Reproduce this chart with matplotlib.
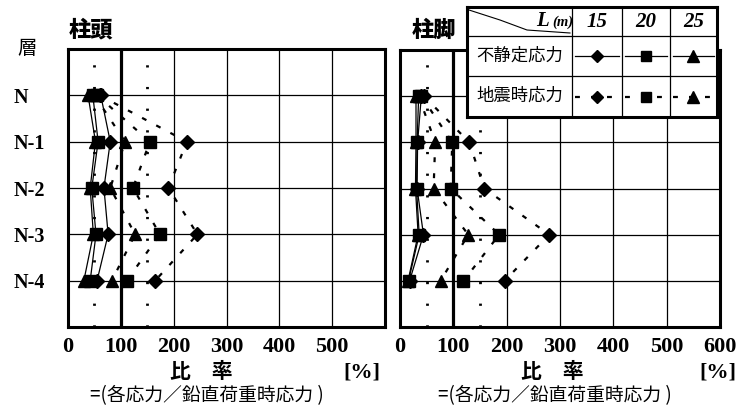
import matplotlib
matplotlib.use('Agg')
from matplotlib import pyplot as plt
import numpy as np

# floors (top to bottom) and ratio values [%]
floors = ['N', 'N-1', 'N-2', 'N-3', 'N-4']
spans = ['15', '20', '25']

# 柱頭 (column top)
top_static_15 = [62, 80, 68, 76, 55]
top_static_20 = [47, 57, 45, 53, 42]
top_static_25 = [38, 52, 42, 48, 30]
top_quake_15 = [60, 225, 190, 245, 165]
top_quake_20 = [55, 155, 123, 174, 111]
top_quake_25 = [50, 108, 80, 127, 83]

# 柱脚 (column base)
base_static_15 = [40, 33, 32, 44, 18]
base_static_20 = [35, 32, 31, 36, 16]
base_static_25 = [30, 30, 29, 34, 15]
base_quake_15 = [45, 130, 158, 280, 196]
base_quake_20 = [40, 98, 95, 186, 119]
base_quake_25 = [35, 66, 63, 128, 76]

W, H = 741, 408
def fx(px):
    return px / W
def fy(py):
    return 1 - py / H

CJK = ['Noto Sans CJK JP', 'DejaVu Sans']
SERIF = ['Liberation Serif', 'DejaVu Serif']
markers = ['D', 's', '^']
msizes = [7, 8, 9]
quake_ls = (0, (2.2, 5))

fig = plt.figure(figsize=(7.41, 4.08), dpi=100)
ax1 = fig.add_axes([fx(68), fy(327), (385 - 68) / W, (327 - 49) / H])
ax2 = fig.add_axes([fx(400), fy(327), (720 - 400) / W, (327 - 50) / H])

rows = np.arange(1, len(floors) + 1)

def setup(ax, xlabels):
    ax.set_xlim(0, 600)
    ax.set_ylim(6, 0)
    for s in ax.spines.values():
        s.set_linewidth(2.2)
    for x in [200, 300, 400, 500]:
        ax.axvline(x, color='k', lw=0.9, zorder=1)
    ax.axvline(100, color='k', lw=2.3, zorder=1)
    for x in [50, 150]:
        ax.axvline(x, color='k', lw=2, linestyle=(0, (0.8, 7)), zorder=1)
    for r in rows:
        ax.axhline(r, color='k', lw=0.9, zorder=1)
    ax.set_xticks(np.arange(0, 700, 100)[:len(xlabels)])
    ax.set_xticklabels(xlabels, family=SERIF, weight='bold', fontsize=16)
    ax.tick_params(axis='x', length=0, pad=7)

def draw(ax, static, quake):
    for vals, m, ms in zip(static, markers, msizes):
        ax.plot(vals, rows, '-', color='k', lw=0.9, marker=m, ms=ms, zorder=3)
    for vals, m, ms in zip(quake, markers, msizes):
        ax.plot(vals, rows, linestyle=quake_ls, color='k', lw=1.6,
                marker=m, ms=ms, zorder=3)

setup(ax1, ['0', '100', '200', '300', '400', '500'])
setup(ax2, ['0', '100', '200', '300', '400', '500', '600'])
draw(ax1, [top_static_15, top_static_20, top_static_25],
     [top_quake_15, top_quake_20, top_quake_25])
draw(ax2, [base_static_15, base_static_20, base_static_25],
     [base_quake_15, base_quake_20, base_quake_25])

ax1.set_yticks(rows)
ax1.set_yticklabels(floors, family=SERIF, weight='bold', fontsize=14.5)
for lab in ax1.get_yticklabels():
    lab.set_ha('left')
ax1.tick_params(axis='y', length=0, pad=39)
ax2.set_yticks([])

# titles and labels
fig.text(fx(69), fy(30), '柱頭', family=CJK, weight='heavy', fontsize=16, va='center')
fig.text(fx(412), fy(30), '柱脚', family=CJK, weight='heavy', fontsize=16, va='center')
fig.text(fx(17), fy(48), '層', family=CJK, fontsize=14, va='center')

for cx, rx, sx in [(201, 362, 207), (552, 718, 555)]:
    fig.text(fx(cx), fy(372), '比　率', family=CJK, weight='bold', fontsize=15,
             ha='center', va='center')
    fig.text(fx(rx), fy(372), '[%]', family=SERIF, weight='bold', fontsize=16,
             ha='center', va='center')
    fig.text(fx(sx), fy(396), '=(各応力／鉛直荷重時応力 )', family=CJK, fontsize=13.5,
             ha='center', va='center')

# legend table
lax = fig.add_axes([fx(467), fy(117), 250 / W, 110 / H], zorder=5)
lax.set_xlim(467, 717)
lax.set_ylim(117, 7)
lax.set_xticks([])
lax.set_yticks([])
lax.set_facecolor('white')
for s in lax.spines.values():
    s.set_linewidth(2.2)
col_edges = [572, 622, 670, 717]
for x in col_edges[:-1]:
    lax.axvline(x, color='k', lw=0.9)
for y in [36, 76]:
    lax.axhline(y, color='k', lw=0.9)
lax.plot([469, 500, 527, 570], [10, 20, 30, 33], color='k', lw=0.8)
lax.text(549, 21, 'L', family=SERIF, weight='bold', style='italic', fontsize=15,
         ha='right', va='center')
lax.text(552, 22, '(m)', family=SERIF, weight='bold', style='italic', fontsize=10.5,
         ha='left', va='center')
lax.text(476, 56, '不静定応力', family=CJK, fontsize=12.5, va='center')
lax.text(476, 96, '地震時応力', family=CJK, fontsize=12.5, va='center')
for i, (lab, m, ms) in enumerate(zip(spans, markers, msizes)):
    x0, x1 = col_edges[i], col_edges[i + 1]
    cx = (x0 + x1) / 2
    lax.text(cx, 22, lab, family=SERIF, weight='bold', style='italic', fontsize=15,
             ha='center', va='center')
    lax.plot([x0 + 3, cx, x1 - 3], [56, 56, 56], '-', color='k', lw=0.9,
             marker=m, ms=ms - 1, markevery=[1])
    lax.plot([x0 + 3, cx, x1 - 3], [97, 97, 97], linestyle=quake_ls, color='k',
             lw=1.6, marker=m, ms=ms - 1, markevery=[1])

fig.savefig('out.png', dpi=100)
